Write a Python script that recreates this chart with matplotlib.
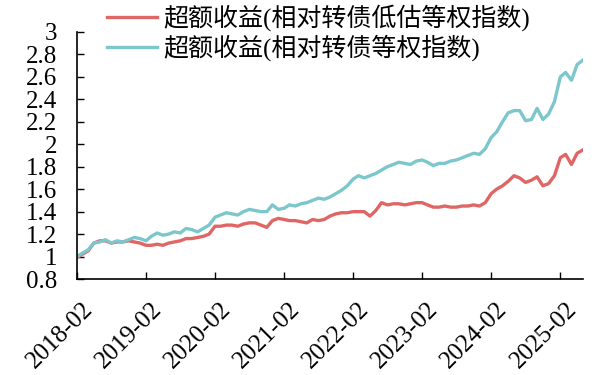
import matplotlib
matplotlib.use('Agg')
import matplotlib.pyplot as plt
import matplotlib.dates as mdates
import matplotlib.transforms as mtransforms
import pandas as pd

plt.rcParams['font.family'] = ['Liberation Serif', 'Noto Sans CJK SC']

# monthly values, 2018-02 .. 2025-06
dates = pd.date_range('2018-02-01', periods=89, freq='MS')
excess_equal = [
    1.00, 1.03, 1.06, 1.12, 1.13, 1.15, 1.12, 1.14, 1.13, 1.15, 1.17, 1.16,
    1.14, 1.18, 1.21, 1.19, 1.20, 1.22, 1.21, 1.25, 1.24, 1.22, 1.25, 1.28,
    1.35, 1.37, 1.39, 1.38, 1.37, 1.40, 1.42, 1.41, 1.40, 1.40, 1.46, 1.42,
    1.43, 1.46, 1.45, 1.47, 1.48, 1.50, 1.52, 1.51, 1.53, 1.56, 1.59, 1.63,
    1.69, 1.72, 1.70, 1.72, 1.74, 1.77, 1.80, 1.82, 1.84, 1.83, 1.82, 1.85,
    1.86, 1.84, 1.81, 1.83, 1.83, 1.85, 1.86, 1.88, 1.90, 1.92, 1.91, 1.96,
    2.06, 2.11, 2.20, 2.28, 2.30, 2.30, 2.21, 2.22, 2.32, 2.22, 2.27, 2.38,
    2.60, 2.64, 2.57, 2.71, 2.75,
]
excess_lowval = [
    0.99, 1.02, 1.05, 1.12, 1.14, 1.14, 1.12, 1.13, 1.13, 1.14, 1.13, 1.12,
    1.10, 1.10, 1.11, 1.10, 1.12, 1.13, 1.14, 1.16, 1.16, 1.17, 1.18, 1.20,
    1.27, 1.27, 1.28, 1.28, 1.27, 1.29, 1.30, 1.30, 1.28, 1.26, 1.32, 1.34,
    1.33, 1.32, 1.32, 1.31, 1.30, 1.33, 1.32, 1.33, 1.36, 1.38, 1.39, 1.39,
    1.40, 1.40, 1.40, 1.36, 1.41, 1.48, 1.46, 1.47, 1.47, 1.46, 1.47, 1.48,
    1.48, 1.46, 1.44, 1.44, 1.45, 1.44, 1.44, 1.45, 1.45, 1.46, 1.45, 1.48,
    1.56, 1.60, 1.63, 1.67, 1.72, 1.70, 1.66, 1.68, 1.71, 1.63, 1.65, 1.72,
    1.88, 1.91, 1.82, 1.92, 1.95,
]
labels = ['超额收益(相对转债低估等权指数)', '超额收益(相对转债等权指数)']
yticks = [0.8, 1, 1.2, 1.4, 1.6, 1.8, 2, 2.2, 2.4, 2.6, 2.8, 3]

fig = plt.figure(figsize=(5.94, 3.75), dpi=100)
ax = fig.add_axes([77 / 594, 96 / 375, 506 / 594, 247 / 375])

ax.plot(dates, excess_lowval, color='#E06666', lw=2.4, label=labels[0])
ax.plot(dates, excess_equal, color='#7CC7CC', lw=2.4, label=labels[1])

ax.set_xlim(dates[0], dates[-1])
ax.set_ylim(0.8, 3.0)
ax.set_yticks(yticks)
ax.set_yticklabels([f'{v:g}' for v in yticks])
ax.set_xticks(pd.date_range('2018-02-01', periods=8, freq='12MS'))
ax.xaxis.set_major_formatter(mdates.DateFormatter('%Y-%m'))
ax.tick_params(axis='both', direction='in', length=5, width=1, labelsize=18, colors='black')
ax.tick_params(axis='y', pad=14)
ax.tick_params(axis='x', pad=14)
shift = mtransforms.ScaledTranslation(5 / 100, 0, fig.dpi_scale_trans)
for lab in ax.get_xticklabels():
    lab.set_rotation(45)
    lab.set_ha('right')
    lab.set_rotation_mode('anchor')
    lab.set_transform(lab.get_transform() + shift)

for s in ['top', 'right']:
    ax.spines[s].set_visible(False)
for s in ['left', 'bottom']:
    ax.spines[s].set_linewidth(1.2)

fig.legend(loc='upper left', bbox_to_anchor=(107 / 594, 1 - 4 / 375),
           frameon=False, fontsize=18, handlelength=2.0, handletextpad=0.25,
           borderpad=0, borderaxespad=0, labelspacing=0.15)

plt.savefig('out.png', dpi=100)
